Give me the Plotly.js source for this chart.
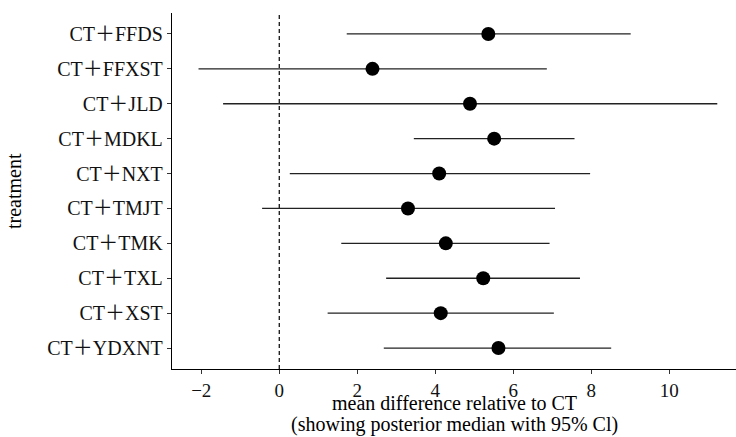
<!DOCTYPE html>
<html>
<head>
<meta charset="utf-8">
<script src="https://cdn.plot.ly/plotly-3.0.1.min.js"></script>
<style>html,body{margin:0;padding:0;background:#fff;}#chart{width:736px;height:437px;}</style>
</head>
<body>
<div id="chart"></div>
<script>
const treatments = ["CT＋FFDS","CT＋FFXST","CT＋JLD","CT＋MDKL","CT＋NXT","CT＋TMJT","CT＋TMK","CT＋TXL","CT＋XST","CT＋YDXNT"];
const medians = [5.36, 2.39, 4.89, 5.51, 4.10, 3.30, 4.27, 5.23, 4.14, 5.62];
const lower   = [1.73, -2.07, -1.44, 3.45, 0.27, -0.44, 1.59, 2.74, 1.24, 2.68];
const upper   = [9.01, 6.86, 11.23, 7.57, 7.97, 7.07, 6.93, 7.71, 7.04, 8.51];
const xTicks = [-2, 0, 2, 4, 6, 8, 10];
const xTickText = ["−2", "0", "2", "4", "6", "8", "10"];
const xTitleLines = ["mean difference relative to CT", "(showing posterior median with 95% Cl)"];
const yTitle = "treatment";

const font = "'Liberation Serif', 'Times New Roman', 'Noto Sans CJK SC', serif";

const trace = {
  type: "scatter",
  mode: "markers",
  x: medians,
  y: treatments,
  marker: {color: "#000", size: 14},
  error_x: {
    type: "data",
    symmetric: false,
    array: upper.map((u, i) => u - medians[i]),
    arrayminus: medians.map((m, i) => m - lower[i]),
    color: "#222",
    thickness: 1.3,
    width: 0
  },
  hoverinfo: "skip",
  showlegend: false
};

const layout = {
  width: 736, height: 437,
  margin: {l: 172, r: 0, t: 13, b: 68},
  paper_bgcolor: "#fff", plot_bgcolor: "#fff",
  font: {family: font, color: "#000", size: 20},
  xaxis: {
    range: [-2.75, 11.71],
    tickvals: xTicks, ticktext: xTickText,
    showgrid: false, zeroline: false,
    showline: true, linecolor: "#000", linewidth: 1.2,
    ticks: "outside", ticklen: 4, tickcolor: "#333", tickwidth: 1,
    tickfont: {family: font, size: 19, color: "#111"}
  },
  yaxis: {
    type: "category",
    categoryorder: "array",
    categoryarray: treatments.slice().reverse(),
    range: [-0.6, 9.6],
    showgrid: false, zeroline: false,
    showline: true, linecolor: "#000", linewidth: 1.2,
    ticks: "outside", ticklen: 4, tickcolor: "#333", tickwidth: 1,
    tickfont: {family: font, size: 20, color: "#111"}
  },
  annotations: [
    {text: xTitleLines[0], xref: "paper", yref: "paper", x: 0.5, y: 0, xanchor: "center", yanchor: "middle", yshift: -34, showarrow: false, font: {family: font, size: 20, color: "#000"}},
    {text: xTitleLines[1], xref: "paper", yref: "paper", x: 0.5, y: 0, xanchor: "center", yanchor: "middle", yshift: -55, showarrow: false, font: {family: font, size: 20, color: "#000"}},
    {text: yTitle, xref: "paper", yref: "paper", x: 0, y: 0.5, xanchor: "center", yanchor: "middle", xshift: -158, textangle: -90, showarrow: false, font: {family: font, size: 20, color: "#000"}}
  ],
  shapes: [{
    type: "line", xref: "x", yref: "paper",
    x0: 0, x1: 0, y0: 0, y1: 1,
    line: {color: "#000", width: 1.2, dash: "4px,3px"},
    layer: "below"
  }]
};

Plotly.newPlot("chart", [trace], layout, {displayModeBar: false, staticPlot: true});
</script>
</body>
</html>
